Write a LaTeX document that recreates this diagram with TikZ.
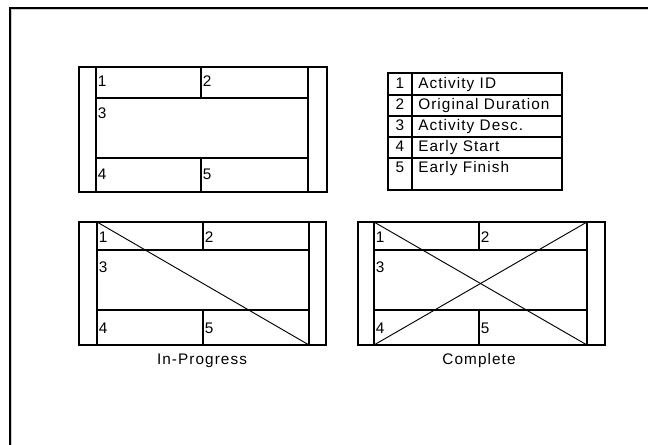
\documentclass[tikz,border=0pt]{standalone}
\usepackage{fontspec}
\setmainfont{Liberation Sans}[LetterSpace=7]
\begin{document}
\begin{tikzpicture}[x=0.75pt,y=-0.75pt,
  frameline/.style={line width=1.2pt,black},
  boxline/.style={line width=0.9pt,black},
  diagline/.style={line width=0.7pt,black},
  txt/.style={inner sep=0pt,font=\fontsize{11.5pt}{13pt}\selectfont},
  num/.style={txt,anchor=base west},
  lnum/.style={txt,anchor=base},
  ltxt/.style={txt,anchor=base west},
  captext/.style={txt,anchor=base}]
\useasboundingbox (0,0) rectangle (648,445);
\fill[white] (0,0) rectangle (648,445);
% frame
\coordinate (fb) at (10,445);
\coordinate (fc) at (10,8);
\coordinate (fr) at (648,8);
\draw[frameline] (fb) -- (fc) -- (fr);
\draw[gray!40,line width=0.6pt] (11.5,445) -- (11.5,9.5) -- (648,9.5);

% ---------- Box 1 (plain) ----------
\draw[boxline] (79,67) rectangle (327,192);
\draw[boxline] (96,67) -- (96,192);
\draw[boxline] (308,67) -- (308,192);
\draw[boxline] (96,98) -- (308,98);
\draw[boxline] (96,158) -- (308,158);
\draw[boxline] (201,67) -- (201,98);
\draw[boxline] (201,158) -- (201,192);
\node[num] (a1) at (97.5,87) {1};
\node[num] (a2) at (202.5,87) {2};
\node[num] (a3) at (97.5,119) {3};
\node[num] (a4) at (97.5,180) {4};
\node[num] (a5) at (202.5,180) {5};

% ---------- Legend ----------
\draw[boxline] (388,73) rectangle (562,190);
\draw[boxline] (412,73) -- (412,190);
\foreach \yy in {95,116,137,158} \draw[boxline] (388,\yy) -- (562,\yy);
\node[lnum] (l1) at (400,89) {1};
\node[lnum] (l2) at (400,110) {2};
\node[lnum] (l3) at (400,131) {3};
\node[lnum] (l4) at (400,152) {4};
\node[lnum] (l5) at (400,173) {5};
\node[ltxt] (t1) at (418,89) {Activity ID};
\node[ltxt] (t2) at (418,110) {Original Duration};
\node[ltxt] (t3) at (418,131) {Activity Desc.};
\node[ltxt] (t4) at (418,152) {Early Start};
\node[ltxt] (t5) at (418,173) {Early Finish};

% ---------- Box 2 (In-Progress) ----------
\draw[boxline] (79,222) rectangle (326,345);
\draw[boxline] (97,222) -- (97,345);
\draw[boxline] (309,222) -- (309,345);
\draw[boxline] (97,250) -- (309,250);
\draw[boxline] (97,310) -- (309,310);
\draw[boxline] (203,222) -- (203,250);
\draw[boxline] (203,310) -- (203,345);
\coordinate (p1) at (97,222);
\coordinate (p2) at (309,345);
\draw[diagline] (p1) -- (p2);
\node[num] (b1) at (98.5,242) {1};
\node[num] (b2) at (204.5,242) {2};
\node[num] (b3) at (98.5,272) {3};
\node[num] (b4) at (98.5,333) {4};
\node[num] (b5) at (204.5,333) {5};
\node[captext] (capb) at (202,364) {In-Progress};

% ---------- Box 3 (Complete) ----------
\draw[boxline] (358,222) rectangle (605,345);
\draw[boxline] (374,222) -- (374,345);
\draw[boxline] (587,222) -- (587,345);
\draw[boxline] (374,250) -- (587,250);
\draw[boxline] (374,310) -- (587,310);
\draw[boxline] (479,222) -- (479,250);
\draw[boxline] (479,310) -- (479,345);
\coordinate (c1) at (374,222);
\coordinate (c2) at (587,345);
\coordinate (c3) at (587,222);
\coordinate (c4) at (374,345);
\draw[diagline] (c1) -- (c2);
\draw[diagline] (c4) -- (c3);
\node[num] (d1) at (375.5,242) {1};
\node[num] (d2) at (480.5,242) {2};
\node[num] (d3) at (375.5,272) {3};
\node[num] (d4) at (375.5,333) {4};
\node[num] (d5) at (480.5,333) {5};
\node[captext] (capd) at (479,364) {Complete};
\end{tikzpicture}
\end{document}
